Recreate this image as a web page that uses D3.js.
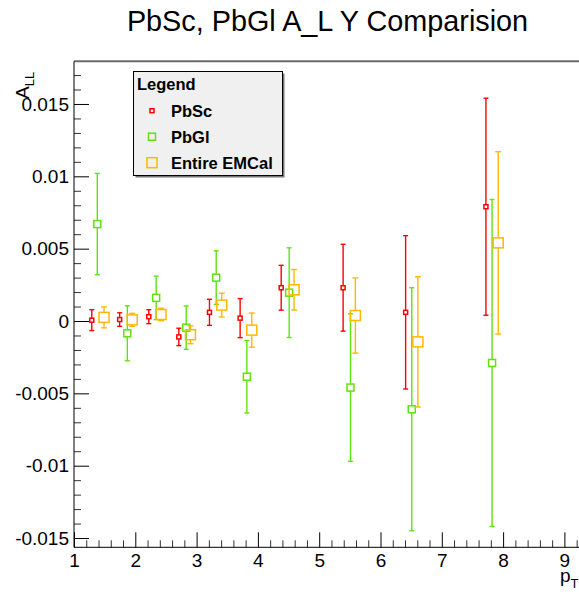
<!DOCTYPE html>
<html>
<head>
<meta charset="utf-8">
<script src="https://cdn.jsdelivr.net/npm/d3@7"></script>
<style>
  html, body { margin: 0; padding: 0; background: #fff; }
  svg { display: block; font-family: "Liberation Sans", Arial, sans-serif; }
</style>
</head>
<body>
<svg id="chart" width="579" height="594"></svg>
<script>
// ---- data ----
const seriesNames = ["PbSc", "PbGl", "Entire EMCal"];
const pbscX   = [1.29, 1.745, 2.22, 2.71, 3.21, 3.71, 4.38, 5.39, 6.41, 7.72];
const pbscY   = [0.00006, 0.0001, 0.0003, -0.0011, 0.0006, 0.0002, 0.0023, 0.0023, 0.0006, 0.0079];
const pbscErr = [0.00072, 0.00047, 0.00048, 0.0006, 0.0009, 0.00135, 0.00155, 0.003, 0.0053, 0.0075];
const pbglX   = [1.38, 1.87, 2.34, 2.83, 3.32, 3.82, 4.51, 5.51, 6.51, 7.82];
const pbglY   = [0.0067, -0.00085, 0.0016, -0.00046, 0.0030, -0.00385, 0.00196, -0.0046, -0.0061, -0.0029];
const pbglErr = [0.0035, 0.0019, 0.0015, 0.0015, 0.00185, 0.0025, 0.0031, 0.0051, 0.0084, 0.0113];
const emcX    = [1.49, 1.95, 2.42, 2.90, 3.41, 3.90, 4.59, 5.59, 6.61, 7.92];
const emcY    = [0.00025, 0.00008, 0.00045, -0.00095, 0.0011, -0.00063, 0.00216, 0.00038, -0.00144, 0.0054];
const emcErr  = [0.00072, 0.00045, 0.00043, 0.00062, 0.00082, 0.00118, 0.0014, 0.0026, 0.0045, 0.0063];
const xTicks = [1, 2, 3, 4, 5, 6, 7, 8, 9];
const yTicks = [-0.015, -0.01, -0.005, 0, 0.005, 0.01, 0.015];
const yTickLabels = ["-0.015", "-0.01", "-0.005", "0", "0.005", "0.01", "0.015"];
const chartTitle = "PbSc, PbGl A_L Y Comparision";

// ---- layout ----
const svg = d3.select("#chart");
const pL = 74, pR = 583, pT = 61.3, pB = 547.3;
const x = d3.scaleLinear().domain([1, 1 + (pR - pL) / 61.3]).range([pL, pR]);
const y = d3.scaleLinear().domain([-0.01564, 0.01795]).range([pB, pT]);

const colors = ["#ff0000", "#5fe30c", "#ffb800"];
const markerSizes = [4, 7, 10];
const capW = [5, 5, 6];

// top frame line (grey)
svg.append("line").attr("x1", pL).attr("x2", 579).attr("y1", pT).attr("y2", pT)
  .attr("stroke", "#6a6a6a").attr("stroke-width", 2);

// y axis minor ticks
const yMinor = d3.range(-15, 18).map(v => v / 1000).filter(v => !yTicks.some(t => Math.abs(t - v) < 1e-9));
svg.append("g").attr("transform", `translate(${pL},0)`)
  .call(d3.axisLeft(y).tickValues(yMinor).tickSizeInner(-7).tickSizeOuter(0).tickFormat(""))
  .call(g => g.select(".domain").remove())
  .call(g => g.selectAll("line").attr("stroke", "#333"));

// y axis major
svg.append("g").attr("transform", `translate(${pL},0)`)
  .call(d3.axisLeft(y).tickValues(yTicks).tickSizeInner(-15).tickSizeOuter(0).tickPadding(5)
    .tickFormat((d, i) => yTickLabels[i]))
  .call(g => g.select(".domain").attr("d", `M0,${pT}V${pB}`).attr("stroke", "#000"))
  .call(g => g.selectAll("text").attr("font-size", 19).attr("fill", "#000")
    .attr("font-family", "Liberation Sans, Arial, sans-serif"));

// x axis minor ticks
const xMinor = d3.range(5, 47).map(v => v / 5).filter(v => Math.abs(v - Math.round(v)) > 1e-9);
svg.append("g").attr("transform", `translate(0,${pB})`)
  .call(d3.axisBottom(x).tickValues(xMinor).tickSizeInner(-7).tickSizeOuter(0).tickFormat(""))
  .call(g => g.select(".domain").remove())
  .call(g => g.selectAll("line").attr("stroke", "#333"));

// x axis major
svg.append("g").attr("transform", `translate(0,${pB})`)
  .call(d3.axisBottom(x).tickValues(xTicks).tickSizeInner(-15).tickSizeOuter(0).tickPadding(6)
    .tickFormat(d3.format("d")))
  .call(g => g.select(".domain").attr("d", `M${pL},0H579`).attr("stroke", "#000"))
  .call(g => g.selectAll("text").attr("font-size", 19).attr("fill", "#000")
    .attr("font-family", "Liberation Sans, Arial, sans-serif"));

// axis titles
const xt = svg.append("text").attr("x", 560).attr("y", 582).attr("font-size", 19);
xt.append("tspan").text("p");
xt.append("tspan").attr("font-size", 13).attr("dy", 6).text("T");

const yt = svg.append("text").attr("transform", `translate(29,99) rotate(-90)`).attr("font-size", 19);
yt.append("tspan").text("A");
yt.append("tspan").attr("font-size", 13).attr("dy", 5).text("LL");

// title
svg.append("text").attr("x", 327.5).attr("y", 31).attr("text-anchor", "middle")
  .attr("font-size", 28.8).text(chartTitle);

// ---- data series ----
const allSeries = [
  { xs: pbscX, ys: pbscY, es: pbscErr },
  { xs: pbglX, ys: pbglY, es: pbglErr },
  { xs: emcX, ys: emcY, es: emcErr }
];
allSeries.forEach((s, si) => {
  const g = svg.append("g");
  const pts = s.xs.map((xv, i) => ({ x: xv, y: s.ys[i], e: s.es[i] }));
  const c = colors[si], h = markerSizes[si] / 2, cw = capW[si] / 2;
  const sw = 1.4;
  pts.forEach(p => {
    const cx = x(p.x), cy = y(p.y), y1 = y(p.y + p.e), y2 = y(p.y - p.e);
    g.append("line").attr("x1", cx).attr("x2", cx).attr("y1", y1).attr("y2", Math.min(cy - h, y2))
      .attr("stroke", c).attr("stroke-width", sw);
    g.append("line").attr("x1", cx).attr("x2", cx).attr("y1", Math.max(cy + h, y1)).attr("y2", y2)
      .attr("stroke", c).attr("stroke-width", sw);
    g.append("line").attr("x1", cx - cw).attr("x2", cx + cw).attr("y1", y1).attr("y2", y1)
      .attr("stroke", c).attr("stroke-width", sw);
    g.append("line").attr("x1", cx - cw).attr("x2", cx + cw).attr("y1", y2).attr("y2", y2)
      .attr("stroke", c).attr("stroke-width", sw);
    g.append("rect").attr("x", cx - h).attr("y", cy - h).attr("width", 2 * h).attr("height", 2 * h)
      .attr("fill", "none").attr("stroke", c).attr("stroke-width", 1.5);
  });
});

// ---- legend ----
const lg = svg.append("g");
const lx = 133.5, ly = 71.5, lw = 149, lh = 104;
lg.append("rect").attr("x", lx + 2).attr("y", ly + 2).attr("width", lw).attr("height", lh).attr("fill", "#777");
lg.append("rect").attr("x", lx).attr("y", ly).attr("width", lw).attr("height", lh)
  .attr("fill", "#f0f0f0").attr("stroke", "#000").attr("stroke-width", 1);
lg.append("text").attr("x", 137).attr("y", 90).attr("font-size", 16.5).attr("font-weight", "bold").text("Legend");
const legY = [110.7, 136.7, 162.7];
seriesNames.forEach((n, i) => {
  const h = markerSizes[i] / 2;
  lg.append("rect").attr("x", 152 - h).attr("y", legY[i] - h).attr("width", 2 * h).attr("height", 2 * h)
    .attr("fill", "none").attr("stroke", colors[i]).attr("stroke-width", 1.5);
  lg.append("text").attr("x", 171).attr("y", legY[i] + 6).attr("font-size", 16.5)
    .attr("font-weight", "bold").text(n);
});
</script>
</body>
</html>
